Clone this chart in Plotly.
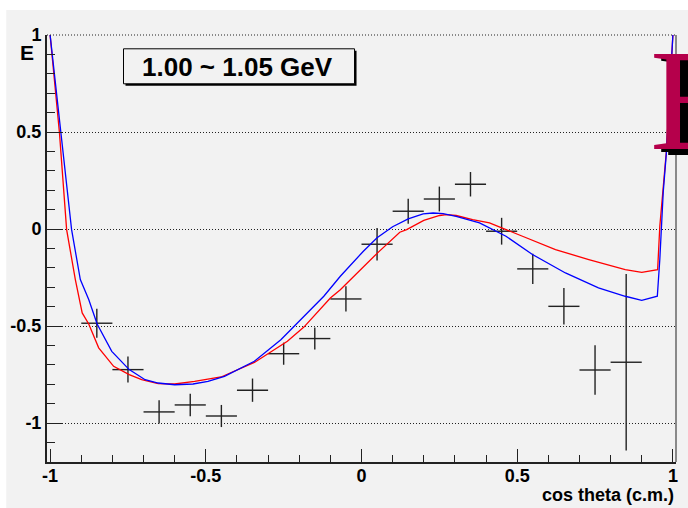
import plotly.graph_objects as go

# ---------------- data ----------------
cos_bins = [-0.85, -0.75, -0.65, -0.55, -0.45, -0.35, -0.25, -0.15, -0.05,
            0.05, 0.15, 0.25, 0.35, 0.45, 0.55, 0.65, 0.75, 0.85]
E_vals = [-0.485, -0.724, -0.942, -0.906, -0.963, -0.830, -0.642, -0.564, -0.360,
          -0.078, 0.092, 0.155, 0.231, -0.011, -0.205, -0.398, -0.726, -0.686]
E_errs = [0.075, 0.067, 0.060, 0.058, 0.057, 0.060, 0.057, 0.057, 0.065,
          0.084, 0.064, 0.064, 0.063, 0.069, 0.078, 0.094, 0.128, 0.455]
bin_half = [0.05] * len(cos_bins)

blue_x = [-1.0, -0.9665, -0.931, -0.903, -0.876, -0.849, -0.802, -0.746, -0.695, -0.653,
          -0.600, -0.541, -0.493, -0.440, -0.344, -0.259, -0.174, -0.121, -0.068, 0.006,
          0.050, 0.100, 0.150, 0.198, 0.230, 0.262, 0.304, 0.379, 0.464, 0.549,
          0.655, 0.761, 0.847, 0.900, 0.950, 0.958, 0.969, 0.979, 1.0]
blue_y = [1.0, 0.496, -0.003, -0.260, -0.363, -0.489, -0.630, -0.724, -0.776, -0.793,
          -0.802, -0.798, -0.785, -0.759, -0.681, -0.570, -0.432, -0.346, -0.243, -0.114,
          -0.045, 0.012, 0.053, 0.078, 0.083, 0.080, 0.066, 0.032, -0.037, -0.131,
          -0.226, -0.303, -0.346, -0.367, -0.346, -0.157, 0.190, 0.390, 1.0]

red_x = [-1.0, -0.970, -0.947, -0.919, -0.897, -0.876, -0.844, -0.796, -0.746, -0.706,
         -0.653, -0.600, -0.536, -0.451, -0.344, -0.238, -0.185, -0.100, -0.068, -0.015,
         0.050, 0.123, 0.145, 0.200, 0.251, 0.272, 0.304, 0.357, 0.411, 0.517,
         0.623, 0.730, 0.847, 0.900, 0.951, 0.958, 0.969, 0.979, 1.0]
red_y = [1.0, 0.496, -0.003, -0.260, -0.432, -0.489, -0.612, -0.707, -0.750, -0.776,
         -0.796, -0.798, -0.785, -0.762, -0.687, -0.578, -0.505, -0.355, -0.312, -0.226,
         -0.125, -0.016, -0.003, 0.045, 0.070, 0.075, 0.070, 0.049, 0.032, -0.037,
         -0.106, -0.157, -0.209, -0.223, -0.209, 0.014, 0.221, 0.400, 1.0]

title_text = "1.00 ~ 1.05 GeV"
x_title = "cos theta (c.m.)"
y_title = "E"
y_ticks = [-1, -0.5, 0, 0.5, 1]
y_tick_labels = ["-1", "-0.5", "0", "0.5", "1"]
x_ticks = [-1, -0.5, 0, 0.5, 1]
x_tick_labels = ["-1", "-0.5", "0", "0.5", "1"]

# ---------------- layout geometry ----------------
W, H = 688, 508
ML, MR, MT, MB = 45, 10, 35, 46
PW = W - ML - MR
PH = H - MT - MB


def px(x):
    return (x - ML) / PW


def py(y):
    return (H - MB - y) / PH


BG = "#f2f2f2"
DARK = "#222222"
FONT = "Liberation Sans"
DOT = "1px,2px"

fig = go.Figure()

fig.add_trace(go.Scatter(
    x=cos_bins, y=E_vals, mode="markers",
    marker=dict(size=1, color="rgba(0,0,0,0)"),
    error_x=dict(type="data", array=bin_half, color=DARK, thickness=1.4, width=0),
    error_y=dict(type="data", array=E_errs, color=DARK, thickness=1.4, width=0),
    showlegend=False, hoverinfo="skip"))

fig.add_trace(go.Scatter(x=red_x, y=red_y, mode="lines",
                         line=dict(color="#ff0000", width=1.3), showlegend=False))
fig.add_trace(go.Scatter(x=blue_x, y=blue_y, mode="lines",
                         line=dict(color="#0000ff", width=1.3), showlegend=False))

shapes = [
    # canvas gray area (white strip on top/left)
    dict(type="rect", xref="paper", yref="paper", x0=px(4), x1=px(W + 20),
         y0=py(H + 20), y1=py(10), fillcolor=BG, line=dict(width=0), layer="below"),
    # right frame border
    dict(type="line", xref="paper", yref="paper", x0=1, x1=1, y0=0, y1=1,
         line=dict(color="#666666", width=1.5)),
    # top dotted line
    dict(type="line", xref="paper", yref="paper", x0=0, x1=1, y0=1, y1=1,
         line=dict(color="#222222", width=1, dash=DOT)),
    # title box shadow
    dict(type="rect", xref="paper", yref="paper", x0=px(124), x1=px(356.5),
         y0=py(85.8), y1=py(50.8), fillcolor="#000000", line=dict(width=0)),
    # title box
    dict(type="rect", xref="paper", yref="paper", x0=px(122), x1=px(354.5),
         y0=py(83.8), y1=py(48.8), fillcolor=BG, line=dict(color="#000000", width=1)),
]

annotations = [
    dict(text="<b>" + title_text + "</b>", xref="paper", yref="paper",
         x=px(237), y=py(67), xanchor="center", yanchor="middle", showarrow=False,
         font=dict(family=FONT, size=26, color="#000000")),
    dict(text="<b>" + y_title + "</b>", xref="paper", yref="paper",
         x=px(25), y=py(52), xanchor="center", yanchor="middle", showarrow=False,
         font=dict(family=FONT, size=21, color="#000000")),
    dict(text="<b>" + x_title + "</b>", xref="paper", yref="paper",
         x=1, y=py(495), xanchor="right", yanchor="middle", showarrow=False,
         font=dict(family=FONT, size=18, color="#000000")),
]
# logo: black extruded shadow then crimson letter
for dx, dy, col in [(7, 3, "#000000"), (14, 6, "#000000"), (0, 0, "#b5004b")]:
    annotations.append(dict(
        text="B", xref="paper", yref="paper",
        x=px(650 + dx), y=py(100 + dy), xanchor="left", yanchor="middle",
        showarrow=False,
        font=dict(family="Liberation Serif", size=145, color=col)))

fig.update_layout(
    width=W, height=H,
    margin=dict(l=ML, r=MR, t=MT, b=MB, pad=0),
    paper_bgcolor="#ffffff", plot_bgcolor=BG,
    shapes=shapes, annotations=annotations,
    xaxis=dict(range=[-1.01, 1.01], showgrid=False, zeroline=False,
               showline=True, linecolor=DARK, linewidth=2,
               tickmode="array", tickvals=x_ticks, ticktext=x_tick_labels,
               ticks="inside", ticklen=13, tickwidth=1, tickcolor=DARK,
               ticklabelstandoff=-4,
               minor=dict(ticks="inside", ticklen=7, dtick=0.1, tick0=0,
                          tickcolor=DARK, tickwidth=1, showgrid=False),
               tickfont=dict(family=FONT, size=18, color="#000000", weight="bold")),
    yaxis=dict(range=[-1.2, 1.0], showgrid=True, gridcolor="#222222", gridwidth=1,
               griddash=DOT, zeroline=False,
               showline=True, linecolor=DARK, linewidth=2,
               tickmode="array", tickvals=y_ticks, ticktext=y_tick_labels,
               ticks="inside", ticklen=16, tickwidth=1, tickcolor=DARK,
               minor=dict(ticks="inside", ticklen=8, dtick=0.1, tick0=0,
                          tickcolor=DARK, tickwidth=1, showgrid=False),
               tickfont=dict(family=FONT, size=18, color="#000000", weight="bold")),
)

fig.write_html("out.html")
